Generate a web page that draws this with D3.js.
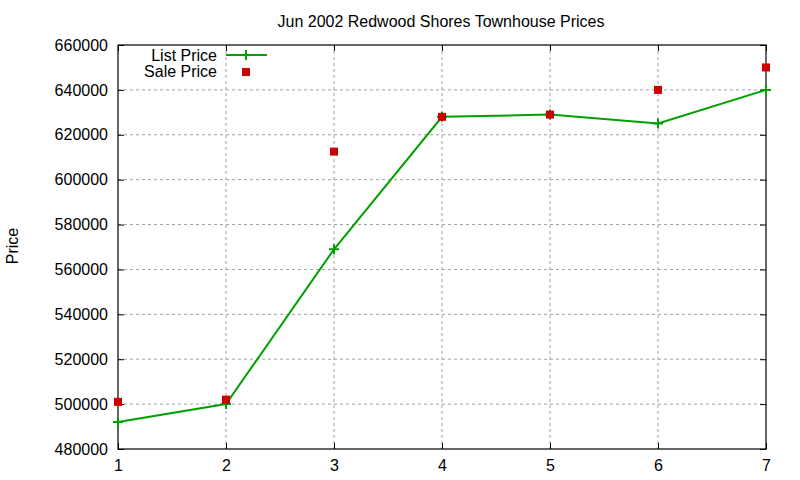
<!DOCTYPE html>
<html>
<head>
<meta charset="utf-8">
<script src="https://cdn.jsdelivr.net/npm/d3@7"></script>
<style>
  body { margin: 0; background: #fff; }
  text { font-family: "Liberation Sans", Arial, sans-serif; font-size: 16px; fill: #000; }
  .grid line { stroke: #a0a0a0; stroke-dasharray: 3,3; stroke-width: 1; }
</style>
</head>
<body>
<div id="chart"></div>
<script>
// data
const months = [1, 2, 3, 4, 5, 6, 7];
const listPrice = [492000, 500000, 569000, 628000, 629000, 625000, 640000];
const salePrice = [501000, 502000, 612500, 628000, 629000, 640000, 650000];
const yTicks = [480000, 500000, 520000, 540000, 560000, 580000, 600000, 620000, 640000, 660000];

const W = 800, H = 480;
const margin = { top: 45, right: 34, bottom: 31, left: 118 };
const width = W - margin.left - margin.right;
const height = H - margin.top - margin.bottom;

const svg = d3.select("#chart").append("svg")
    .attr("width", W).attr("height", H);

const x = d3.scaleLinear().domain([1, 7]).range([margin.left, margin.left + width]);
const y = d3.scaleLinear().domain([480000, 660000]).range([margin.top + height, margin.top]);

// grid
const grid = svg.append("g").attr("class", "grid");
grid.selectAll(".gx").data(months.slice(1, -1)).enter().append("line")
    .attr("x1", d => x(d)).attr("x2", d => x(d))
    .attr("y1", margin.top).attr("y2", margin.top + height);
grid.selectAll(".gy").data(yTicks.slice(1, -1)).enter().append("line")
    .attr("x1", margin.left).attr("x2", margin.left + width)
    .attr("y1", d => y(d)).attr("y2", d => y(d));

// axes (gnuplot style: ticks inside, mirrored)
const fmt = d3.format("d");
function fixText(g) {
  g.select(".domain").remove();
  g.attr("font-size", null).attr("font-family", null);
}
svg.append("g")
    .attr("transform", "translate(" + margin.left + ",0)")
    .call(d3.axisLeft(y).tickValues(yTicks).tickFormat(fmt).tickSizeInner(-6).tickSizeOuter(0).tickPadding(10))
    .call(fixText);
svg.append("g")
    .attr("transform", "translate(" + (margin.left + width) + ",0)")
    .call(d3.axisRight(y).tickValues(yTicks).tickFormat("").tickSizeInner(-6).tickSizeOuter(0))
    .call(fixText);
svg.append("g")
    .attr("transform", "translate(0," + (margin.top + height) + ")")
    .call(d3.axisBottom(x).tickValues(months).tickFormat(fmt).tickSizeInner(-6).tickSizeOuter(0).tickPadding(11))
    .call(fixText);
svg.append("g")
    .attr("transform", "translate(0," + margin.top + ")")
    .call(d3.axisTop(x).tickValues(months).tickFormat("").tickSizeInner(-6).tickSizeOuter(0))
    .call(fixText);
svg.selectAll(".tick line").attr("stroke", "#000");

// frame
svg.append("rect")
    .attr("x", margin.left).attr("y", margin.top)
    .attr("width", width).attr("height", height)
    .attr("fill", "none").attr("stroke", "#000").attr("stroke-width", 1.2);

// list price line
const green = "#00a000", red = "#cc0000";
const line = d3.line().x((d, i) => x(months[i])).y(d => y(d));
svg.append("path").datum(listPrice)
    .attr("d", line).attr("fill", "none")
    .attr("stroke", green).attr("stroke-width", 2);

function plusPath(cx, cy, s) {
  return "M" + (cx - s) + "," + cy + "H" + (cx + s) + "M" + cx + "," + (cy - s) + "V" + (cy + s);
}
svg.selectAll(".lp").data(listPrice).enter().append("path")
    .attr("d", (d, i) => plusPath(x(months[i]), y(d), 5))
    .attr("stroke", green).attr("stroke-width", 2);

// sale price points
svg.selectAll(".sp").data(salePrice).enter().append("rect")
    .attr("x", (d, i) => x(months[i]) - 4)
    .attr("y", d => y(d) - 4)
    .attr("width", 8).attr("height", 8)
    .attr("fill", red);

// title and y label
svg.append("text").attr("x", 441).attr("y", 27)
    .attr("text-anchor", "middle").text("Jun 2002 Redwood Shores Townhouse Prices");
svg.append("text")
    .attr("transform", "translate(18,246) rotate(-90)")
    .attr("text-anchor", "middle").text("Price");

// legend
const leg = svg.append("g");
leg.append("text").attr("x", 217).attr("y", 61).attr("text-anchor", "end").text("List Price");
leg.append("line").attr("x1", 226).attr("x2", 267).attr("y1", 55).attr("y2", 55)
    .attr("stroke", green).attr("stroke-width", 2);
leg.append("path").attr("d", plusPath(246, 55, 5)).attr("stroke", green).attr("stroke-width", 2);
leg.append("text").attr("x", 217).attr("y", 77).attr("text-anchor", "end").text("Sale Price");
leg.append("rect").attr("x", 242).attr("y", 68).attr("width", 8).attr("height", 8).attr("fill", red);
</script>
</body>
</html>
